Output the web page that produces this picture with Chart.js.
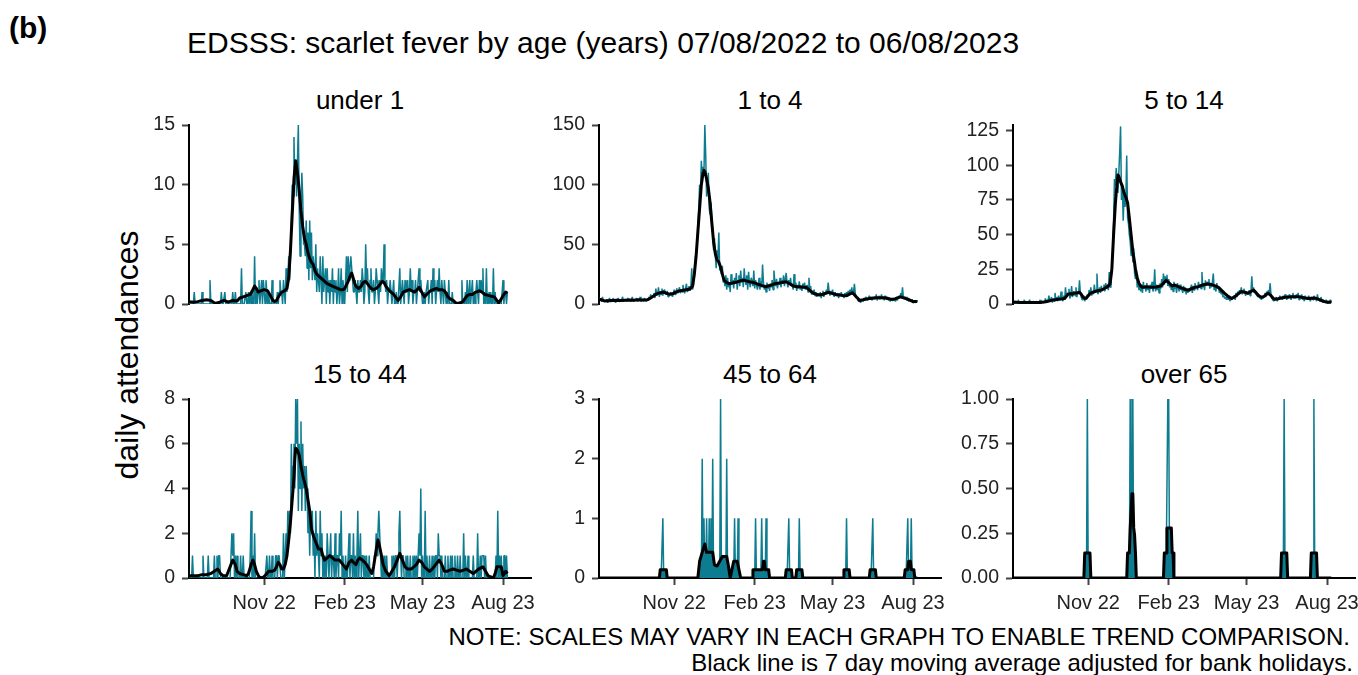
<!DOCTYPE html>
<html>
<head>
<meta charset="utf-8">
<script src="https://cdn.jsdelivr.net/npm/chart.js@4/dist/chart.umd.min.js"></script>
<style>
  body { margin: 0; width: 1358px; height: 675px; overflow: hidden; background: #fff; position: relative;
         font-family: "Liberation Sans", Arial, sans-serif; }
  .txt { position: absolute; white-space: nowrap; color: #000; line-height: 1; }
  canvas { position: absolute; }
</style>
</head>
<body>
<div class="txt" style="left:9px;top:13px;font-size:30px;font-weight:bold">(b)</div>
<div class="txt" style="left:187px;top:28px;font-size:30px">EDSSS: scarlet fever by age (years) 07/08/2022 to 06/08/2023</div>
<div class="txt" style="left:127px;top:355px;font-size:32px;transform:translate(-50%,-50%) rotate(-90deg)">daily attendances</div>
<div class="txt" style="right:8px;top:625px;font-size:24px">NOTE: SCALES MAY VARY IN EACH GRAPH TO ENABLE TREND COMPARISON.</div>
<div class="txt" style="right:5px;top:651px;font-size:24px">Black line is 7 day moving average adjusted for bank holidays.</div>

<script>
// day 0 = 07/08/2022, day 364 = 06/08/2023
const xTickDays = [86, 178, 267, 359];
const xTickLabels = ['Nov 22', 'Feb 23', 'May 23', 'Aug 23'];
const nDays = 365;

// daily attendances, one row per week
const under1 = [
  0,0,0,0,0,0,1, 0,0,0,0,0,0,0, 0,1,0,0,0,0,0, 0,0,0,2,0,0,0, 0,0,0,0,0,0,0,
  0,0,1,0,0,0,1, 0,0,0,0,0,0,0, 0,1,0,0,1,0,0, 0,0,0,0,3,0,0, 0,0,1,0,0,1,0,
  1,0,1,0,0,4,0, 1,0,1,2,0,1,2, 0,2,1,0,2,1,0, 1,0,0,0,2,0,0, 0,0,0,1,0,1,2,
  1,1,0,2,1,0,3, 1,2,4,2,4,7,10, 9,14,10,12,9,12,15, 8,4,8,11,9,5,5, 4,7,3,6,2,7,3,
  6,2,4,3,2,5,1, 3,2,1,4,2,0,4, 1,2,3,0,3,1,2, 0,2,1,3,0,2,1, 2,0,1,3,0,1,3,
  0,2,1,0,2,4,1, 4,2,3,4,3,2,1, 1,2,1,0,2,1,1, 2,1,3,2,0,1,5, 2,3,1,0,2,3,1,
  1,2,0,1,3,2,1, 0,2,1,3,2,2,5, 2,1,2,0,1,1,2, 1,0,1,2,0,0,1, 0,0,0,3,0,1,2,
  1,0,2,1,1,2,0, 1,3,1,2,0,1,1, 2,0,1,2,3,1,2, 1,0,0,1,0,1,1, 2,0,1,1,2,0,3,
  1,2,0,1,2,1,3, 1,0,2,1,0,2,1, 0,1,0,2,0,0,0, 1,0,0,0,0,0,0, 0,0,0,0,2,0,0,
  0,1,0,2,0,1,2, 0,1,2,0,1,0,1, 2,1,0,2,1,2,1, 3,0,1,0,3,0,0, 1,0,1,0,0,3,0,
  1,0,0,0,0,0,0, 0,1,2,0,1,1,0, 1
];
const age1to4 = [
  5,4,3,2,6,3,2, 3,2,4,1,3,5,2, 2,3,5,2,3,1,4, 3,5,2,3,2,4,6, 2,3,4,3,2,5,3,
  4,2,3,6,3,2,4, 3,5,2,4,3,6,2, 3,4,2,5,3,2,4, 3,6,4,8,5,7,6, 9,5,13,7,8,14,6,
  10,8,13,7,11,12,9, 8,11,6,9,7,10,8, 6,9,12,8,10,13,9, 11,14,9,12,10,16,11, 9,13,17,10,12,15,11,
  14,30,12,16,28,35,45, 50,65,80,100,95,120,105, 115,110,150,125,90,95,110, 80,75,85,70,60,45,55, 40,30,45,38,60,28,30,
  25,32,18,20,15,24,12, 22,14,18,10,25,16,20, 13,22,17,26,12,19,24, 15,28,18,22,14,30,20, 16,24,12,27,18,14,22,
  19,15,28,13,20,17,12, 15,22,12,19,14,33,18, 12,16,10,18,13,15,11, 17,14,20,12,28,19,15, 21,13,18,16,22,14,20,
  17,24,15,21,26,18,14, 20,16,22,15,17,12,25, 14,18,11,16,13,19,12, 15,11,17,13,18,12,14, 16,10,22,13,15,8,11,
  9,12,7,10,6,9,8, 7,10,5,8,11,6,9, 8,12,9,18,11,7,10, 9,12,8,6,10,7,9, 8,5,9,7,10,6,8,
  5,9,7,10,6,11,8, 12,9,14,8,10,17,9, 5,6,3,2,4,1,3, 4,2,5,3,6,4,3, 5,7,4,6,3,5,4,
  6,4,8,3,5,7,4, 5,8,4,6,3,7,5, 4,6,3,5,2,4,3, 5,3,4,2,6,3,5, 7,5,9,6,14,5,6,
  4,6,3,5,2,4,3, 2,4,1,3,2,1,3, 2
];
const age5to14 = [
  2,1,0,1,2,0,3, 1,0,2,1,0,1,3, 0,1,2,0,1,3,1, 1,0,2,1,0,1,2, 0,1,1,3,0,2,1,
  2,1,4,1,3,2,6, 2,3,5,1,4,2,8, 3,5,2,6,3,4,9, 4,2,6,3,12,5,8, 7,11,4,6,13,5,9,
  8,6,12,5,9,7,17, 8,5,3,4,6,2,5, 3,7,5,10,8,12,6, 9,7,14,8,10,22,7, 9,12,8,13,10,11,14,
  9,15,11,13,10,23,12, 18,25,40,60,90,85,98, 88,80,95,110,128,75,85, 60,80,70,75,107,62,58, 50,45,35,48,30,40,22,
  18,25,12,16,10,14,9, 14,8,16,11,13,9,15, 10,13,8,14,11,16,9, 12,25,9,14,10,13,8, 15,11,18,12,22,14,20,
  16,21,13,18,12,15,10, 14,9,16,11,13,8,15, 12,9,14,10,11,8,13, 9,12,7,11,8,10,9, 11,14,8,13,10,15,12,
  13,10,16,12,14,11,23, 12,15,10,17,13,16,14, 18,11,15,12,16,22,10, 13,9,15,11,12,8,10, 7,9,5,6,4,5,3,
  5,3,6,2,4,3,5, 4,6,3,8,5,9,7, 10,8,12,7,9,11,8, 6,9,7,8,10,6,8, 20,9,12,8,10,7,6,
  5,7,4,6,3,5,4, 6,8,5,9,7,10,8, 15,6,4,3,2,4,3, 5,2,4,3,6,4,5, 3,6,4,7,5,3,6,
  4,7,5,3,6,8,4, 6,4,7,5,8,3,6, 4,7,3,5,2,6,4, 5,3,6,4,2,5,4, 3,6,4,5,2,7,3,
  4,2,5,3,1,3,2, 1,3,2,0,2,1,3, 1
];
const age15to44 = [
  0,0,0,0,1,0,0, 0,0,0,0,0,0,0, 0,0,1,0,0,0,0, 0,1,0,0,0,0,0, 0,1,0,0,1,0,1,
  1,0,0,0,0,0,0, 0,0,0,0,0,0,0, 2,1,2,0,1,0,1, 0,0,0,1,0,0,1, 0,0,0,0,0,0,0,
  1,3,0,1,0,2,0, 0,0,0,0,0,0,0, 0,0,0,0,0,1,0, 0,1,0,0,1,0,0, 0,1,1,0,1,1,1,
  0,0,0,2,0,1,2, 1,3,2,3,2,6,4, 5,6,4,8,6,8,3, 6,4,7,3,6,4,5, 3,5,4,2,3,1,3,
  2,3,1,2,0,3,1, 2,1,0,3,1,2,0, 1,0,1,0,2,1,0, 1,2,0,1,1,0,2, 0,1,1,0,2,1,3,
  0,1,0,0,1,0,0, 1,2,0,1,1,0,2, 0,1,0,1,3,0,1, 2,0,1,1,0,1,0, 1,0,0,1,0,0,0,
  0,0,1,1,2,1,2, 3,2,1,0,1,0,1, 0,0,1,0,0,0,0, 0,1,0,1,0,1,1, 0,1,2,3,1,0,1,
  1,0,0,1,0,1,0, 0,1,0,0,1,0,1, 0,1,0,1,2,1,4, 0,1,0,0,3,0,1, 0,0,1,0,0,1,0,
  1,0,1,1,0,2,1, 1,0,1,0,0,0,1, 0,0,1,0,0,1,0, 1,0,0,1,0,0,1, 0,0,1,0,0,0,2,
  0,1,0,0,1,0,0, 0,0,0,1,0,0,0, 0,2,0,0,1,0,1, 1,1,0,1,0,0,0, 0,0,0,0,0,0,0,
  0,1,0,3,0,1,0, 1,0,0,1,1,0,1, 0
];
// sparse panels: days with attendances and their counts
const age45to64Days = [73,118,120,123,126,128,130,139,146,155,159,179,186,191,217,229,283,313,353,357];
const age45to64Counts = [1,2,1,1,1,1,2,3,2,1,1,1,1,1,1,1,1,1,1,1];
const over65Days = [85,134,136,137,177,178,310,344];
const over65Counts = [1,1,1,1,1,1,1,1];

// 7 day moving average: [day, value]
const maUnder1 = [[0,0.2],[5,0.15],[10,0.2],[15,0.3],[20,0.35],[25,0.3],[30,0.05],[35,0.15],[40,0.3],[45,0.15],[50,0.3],[55,0.25],[58,0.5],[62,0.6],[66,0.7],[70,0.8],[73,1.2],[75,1.5],[77,1.3],[79,1.0],[82,1.1],[86,1.2],[90,1.1],[93,0.7],[96,0.3],[98,0.2],[100,0.3],[103,0.7],[106,1.0],[109,1.1],[112,1.3],[114,2.2],[116,4.5],[118,7.5],[120,10.5],[122,12],[124,11],[126,9.5],[128,7.8],[130,6.5],[132,5.5],[134,5],[136,4.3],[138,3.8],[140,3.5],[142,3.3],[144,2.8],[146,2.5],[149,2.3],[152,2.1],[155,1.9],[158,1.7],[161,1.6],[164,1.5],[167,1.4],[170,1.3],[173,1.2],[176,1.2],[178,1.3],[180,1.6],[182,1.9],[184,2.3],[186,2.6],[188,2.1],[190,1.6],[192,1.4],[194,1.3],[197,1.5],[199,1.8],[202,1.9],[205,1.6],[208,1.3],[211,1.2],[214,1.3],[217,1.5],[219,1.7],[221,1.9],[223,1.8],[225,1.5],[228,1.2],[231,1.0],[234,0.8],[237,0.5],[239,0.3],[242,0.6],[245,1.0],[248,1.1],[252,1.2],[255,1.1],[258,1.0],[261,1.2],[263,1.4],[266,1.0],[269,0.6],[273,0.9],[276,1.1],[279,1.2],[283,1.3],[286,1.2],[289,1.2],[292,1.1],[294,0.9],[296,0.6],[299,0.4],[302,0.3],[305,0.1],[307,0.05],[310,0.1],[313,0.2],[315,0.4],[318,0.7],[321,0.8],[324,0.8],[328,1.0],[332,1.1],[335,1.0],[338,0.8],[341,0.75],[343,0.7],[346,0.65],[349,0.6],[352,0.3],[354,0.1],[356,0.3],[359,0.7],[362,1.0],[364,0.9]];
const ma1to4 = [[0,4],[3,3.5],[6,2.6],[10,2.8],[15,3],[20,3.2],[25,3],[30,3.2],[35,3.3],[40,3.2],[45,3.5],[50,3.3],[55,3.5],[58,4.5],[62,6.5],[66,8.5],[70,9.5],[74,10],[77,9],[80,8.2],[84,8.5],[88,10],[92,11],[96,11.5],[100,12],[104,12.5],[107,15],[109,25],[111,40],[113,60],[115,80],[117,100],[119,110],[120,112],[121,111],[123,105],[125,97],[127,85],[129,68],[131,52],[133,42],[135,37],[137,35],[139,31],[141,25],[143,20],[146,18],[149,17],[152,17.5],[155,18],[158,18.5],[162,19.5],[166,20],[170,19],[173,18.5],[177,18],[180,17],[184,16],[188,15],[191,14.5],[195,15.5],[198,16],[201,17],[205,17.5],[209,18],[214,18.7],[218,17],[222,15],[226,14.5],[230,14.5],[234,14],[237,14],[241,11.5],[245,9],[249,8],[252,7.5],[256,8.2],[260,9.2],[263,9.8],[267,8.8],[271,8],[275,7.5],[279,7.2],[283,7],[287,8.5],[290,9.5],[293,7],[296,4.5],[298,3],[302,3.5],[306,4.2],[310,4.7],[314,5],[318,5.2],[322,5.3],[326,5.2],[330,4.6],[333,4.2],[336,3.9],[339,4.5],[342,5.3],[345,6],[348,5.2],[351,4.5],[353,4],[356,3],[359,2],[362,2.2],[364,2]];
const ma5to14 = [[0,1.5],[4,1.2],[10,1],[15,1],[20,1],[25,1],[30,1.1],[36,1.5],[40,2],[45,2.8],[50,3.2],[55,3.6],[59,4],[61,5.5],[63,7],[66,7.5],[68,7],[70,8],[73,8],[76,8.5],[78,7],[80,5],[82,4],[84,4.5],[86,6],[89,8],[93,8.8],[97,9.5],[101,10],[104,11],[108,12.5],[111,14.5],[113,25],[115,50],[117,72],[118,80],[120,93],[121,92],[123,88],[125,85],[127,80],[129,77],[131,73],[133,62],[135,50],[137,38],[139,30],[140,25],[142,19],[144,15],[146,13],[148,12],[152,12.5],[156,12.2],[160,12],[164,12.3],[167,12.8],[169,13],[172,15],[175,17],[178,15.5],[182,13],[185,13.7],[189,12.5],[193,11.5],[197,10.5],[200,10],[204,11],[208,12],[212,12.5],[216,13.5],[219,14],[223,14.4],[227,14],[231,13],[235,12],[239,9.5],[243,7],[247,5],[250,4],[254,5.5],[258,7.5],[261,9],[265,8.5],[269,7.7],[272,9],[275,10],[278,8],[281,6],[284,4.8],[287,5.5],[290,7],[292,7.7],[295,6],[297,4.5],[299,3.4],[303,3.8],[307,4.3],[311,4.8],[315,5],[319,5.2],[323,5.3],[326,5.3],[330,4.8],[334,4.3],[337,4],[341,4.2],[344,4.3],[347,4],[350,3.2],[353,2.5],[356,1.7],[358,1.4],[360,1.2],[362,1.5],[364,1.3]];
const ma15to44 = [[0,0.1],[5,0.1],[10,0.1],[15,0.15],[20,0.15],[25,0.2],[29,0.3],[33,0.4],[36,0.2],[39,0.1],[43,0.1],[46,0.4],[50,0.8],[53,0.6],[55,0.3],[58,0.2],[62,0.15],[66,0.1],[68,0.2],[71,0.6],[73,0.8],[75,0.6],[77,0.3],[80,0.05],[84,0],[87,0.1],[91,0.3],[95,0.3],[98,0.35],[100,0.5],[102,0.7],[104,0.6],[106,0.4],[108,0.4],[110,0.6],[112,1.0],[114,1.7],[116,2.5],[118,3.5],[120,4.5],[121,5.3],[122,5.8],[124,5.7],[126,5.5],[128,5.0],[130,4.6],[132,4.3],[134,4.0],[136,3.5],[138,3.0],[140,2.2],[142,1.9],[144,1.7],[146,1.5],[148,1.3],[151,1.3],[153,1.0],[155,0.8],[158,0.9],[161,1.0],[164,0.9],[167,0.8],[169,0.8],[172,0.8],[174,0.7],[176,0.6],[178,0.5],[180,0.4],[183,0.7],[186,0.8],[188,0.7],[191,0.6],[193,0.8],[195,0.9],[198,0.8],[201,0.7],[203,0.6],[206,0.4],[209,0.2],[211,0.5],[213,1.0],[216,1.7],[218,1.4],[220,1.0],[222,0.6],[225,0.3],[229,0.1],[232,0.3],[235,0.5],[238,0.8],[241,1.1],[244,0.8],[247,0.5],[250,0.4],[254,0.4],[257,0.5],[260,0.6],[263,0.8],[266,0.7],[269,0.5],[272,0.4],[275,0.3],[278,0.4],[282,0.6],[286,0.8],[289,0.6],[292,0.3],[295,0.3],[298,0.35],[302,0.4],[306,0.35],[310,0.3],[314,0.35],[317,0.4],[321,0.3],[325,0.2],[328,0.3],[331,0.4],[336,0.5],[339,0.3],[342,0.1],[345,0.05],[348,0],[350,0.2],[352,0.5],[355,0.5],[357,0.5],[359,0.1],[362,0.3],[364,0.2]];
const ma45to64 = [[0,0],[69,0],[70,0.14],[77,0.14],[78,0],[113,0],[115,0.28],[118,0.43],[121,0.57],[123,0.43],[126,0.43],[130,0.43],[132,0.22],[135,0.2],[138,0.28],[141,0.36],[146,0.36],[148,0.2],[150,0],[152,0.14],[154,0.28],[158,0.28],[160,0.14],[162,0],[175,0],[176,0.14],[187,0.14],[188,0.28],[189,0.28],[190,0.14],[194,0.14],[195,0],[213,0],[214,0.14],[220,0.14],[221,0],[225,0],[226,0.14],[232,0.14],[233,0],[279,0],[280,0.14],[286,0.14],[287,0],[309,0],[310,0.14],[316,0.14],[317,0],[349,0],[350,0.14],[353,0.14],[354,0.28],[356,0.28],[357,0.14],[360,0.14],[361,0],[364,0]];
const maOver65 = [[0,0],[81,0],[82,0.14],[88,0.14],[89,0],[130,0],[131,0.14],[133,0.14],[134,0.28],[136,0.47],[137,0.47],[138,0.28],[139,0.24],[140,0.14],[141,0],[172,0],[173,0.14],[175,0.14],[176,0.28],[181,0.28],[182,0.14],[183,0.14],[184,0],[306,0],[307,0.14],[313,0.14],[314,0],[340,0],[341,0.14],[347,0.14],[348,0],[364,0]];

const yTicksUnder1 = [0, 5, 10, 15];
const yTicks1to4 = [0, 50, 100, 150];
const yTicks5to14 = [0, 25, 50, 75, 100, 125];
const yTicks15to44 = [0, 2, 4, 6, 8];
const yTicks45to64 = [0, 1, 2, 3];
const yTicksOver65 = [0, 0.25, 0.5, 0.75, 1];

function fromEvents(days, counts) {
  const arr = new Array(nDays).fill(0);
  days.forEach(function(d, i) { arr[d] = counts[i]; });
  return arr;
}

const panels = [
  { title: 'under 1',  daily: under1,    ma: maUnder1, yMax: 15,  ticks: yTicksUnder1, col: 0, row: 0 },
  { title: '1 to 4',   daily: age1to4,   ma: ma1to4,   yMax: 150, ticks: yTicks1to4,   col: 1, row: 0 },
  { title: '5 to 14',  daily: age5to14,  ma: ma5to14,  yMax: 129, ticks: yTicks5to14,  col: 2, row: 0 },
  { title: '15 to 44', daily: age15to44, ma: ma15to44, yMax: 8,   ticks: yTicks15to44, col: 0, row: 1 },
  { title: '45 to 64', daily: fromEvents(age45to64Days, age45to64Counts), ma: ma45to64, yMax: 3, ticks: yTicks45to64, col: 1, row: 1, fillMa: true },
  { title: 'over 65',  daily: fromEvents(over65Days, over65Counts), ma: maOver65, yMax: 1, ticks: yTicksOver65, col: 2, row: 1, fillMa: true, decimals: 2 }
];

const teal = '#0e7c90';
const fontFamily = '"Liberation Sans", Arial, sans-serif';
const colLeft = [189, 599, 1013];
const rowTop = [125, 399];
// padding larger than half a tick label + tick padding so chart area is not shrunk
const plotW = 342, plotH = 179, axisW = 70, padTop = 24, padRight = 16;

panels.forEach(function(p) {
  const left = colLeft[p.col], top = rowTop[p.row];
  const hasX = p.row === 1;
  const bottomSpace = hasX ? 40 : 24;
  const w = axisW + plotW + padRight;
  const h = padTop + plotH + bottomSpace;

  const title = document.createElement('div');
  title.className = 'txt';
  title.textContent = p.title;
  title.style.cssText = 'left:' + (left + plotW / 2) + 'px;top:' + (top - 38) + 'px;font-size:26px;transform:translateX(-50%)';
  document.body.appendChild(title);

  const cv = document.createElement('canvas');
  cv.width = w; cv.height = h;
  cv.style.left = (left - axisW) + 'px';
  cv.style.top = (top - padTop) + 'px';
  cv.style.width = w + 'px'; cv.style.height = h + 'px';
  document.body.appendChild(cv);

  const gridOpts = { display: true, drawOnChartArea: false, drawTicks: true, tickLength: 7, tickColor: '#444', tickWidth: 2 };
  const borderOpts = { display: true, color: '#000', width: 2 };

  new Chart(cv, {
    type: 'line',
    data: {
      datasets: [{
        data: p.ma.map(function(d) { return { x: d[0], y: d[1] }; }),
        borderColor: '#000',
        borderWidth: 3,
        borderJoinStyle: 'round',
        pointRadius: 0,
        fill: p.fillMa ? 'origin' : false,
        backgroundColor: teal,
        order: 0
      }, {
        data: p.daily.map(function(v, i) { return { x: i, y: v }; }),
        borderColor: teal,
        borderWidth: 1.5,
        borderJoinStyle: 'bevel',
        pointRadius: 0,
        fill: false,
        order: 1
      }]
    },
    options: {
      responsive: false,
      animation: false,
      layout: { padding: { top: padTop, right: padRight, bottom: hasX ? 0 : 24, left: 0 } },
      plugins: { legend: { display: false }, tooltip: { enabled: false } },
      scales: {
        x: {
          type: 'linear',
          min: 0,
          max: 391,
          display: hasX,
          afterBuildTicks: function(s) { s.ticks = xTickDays.map(function(v) { return { value: v }; }); },
          afterFit: function(s) { s.height = hasX ? 40 : 0; },
          ticks: {
            autoSkip: false,
            maxRotation: 0,
            padding: 6,
            color: '#222',
            font: { family: fontFamily, size: 20 },
            callback: function(v) { return xTickLabels[xTickDays.indexOf(v)]; }
          },
          grid: gridOpts,
          border: borderOpts
        },
        y: {
          min: 0,
          max: p.yMax,
          afterBuildTicks: function(s) { s.ticks = p.ticks.map(function(v) { return { value: v }; }); },
          afterFit: function(s) { s.width = axisW; },
          ticks: {
            padding: 7,
            color: '#222',
            font: { family: fontFamily, size: 19.5 },
            callback: function(v) { return p.decimals ? v.toFixed(p.decimals) : String(v); }
          },
          grid: gridOpts,
          border: borderOpts
        }
      }
    }
  });
});
</script>
</body>
</html>
